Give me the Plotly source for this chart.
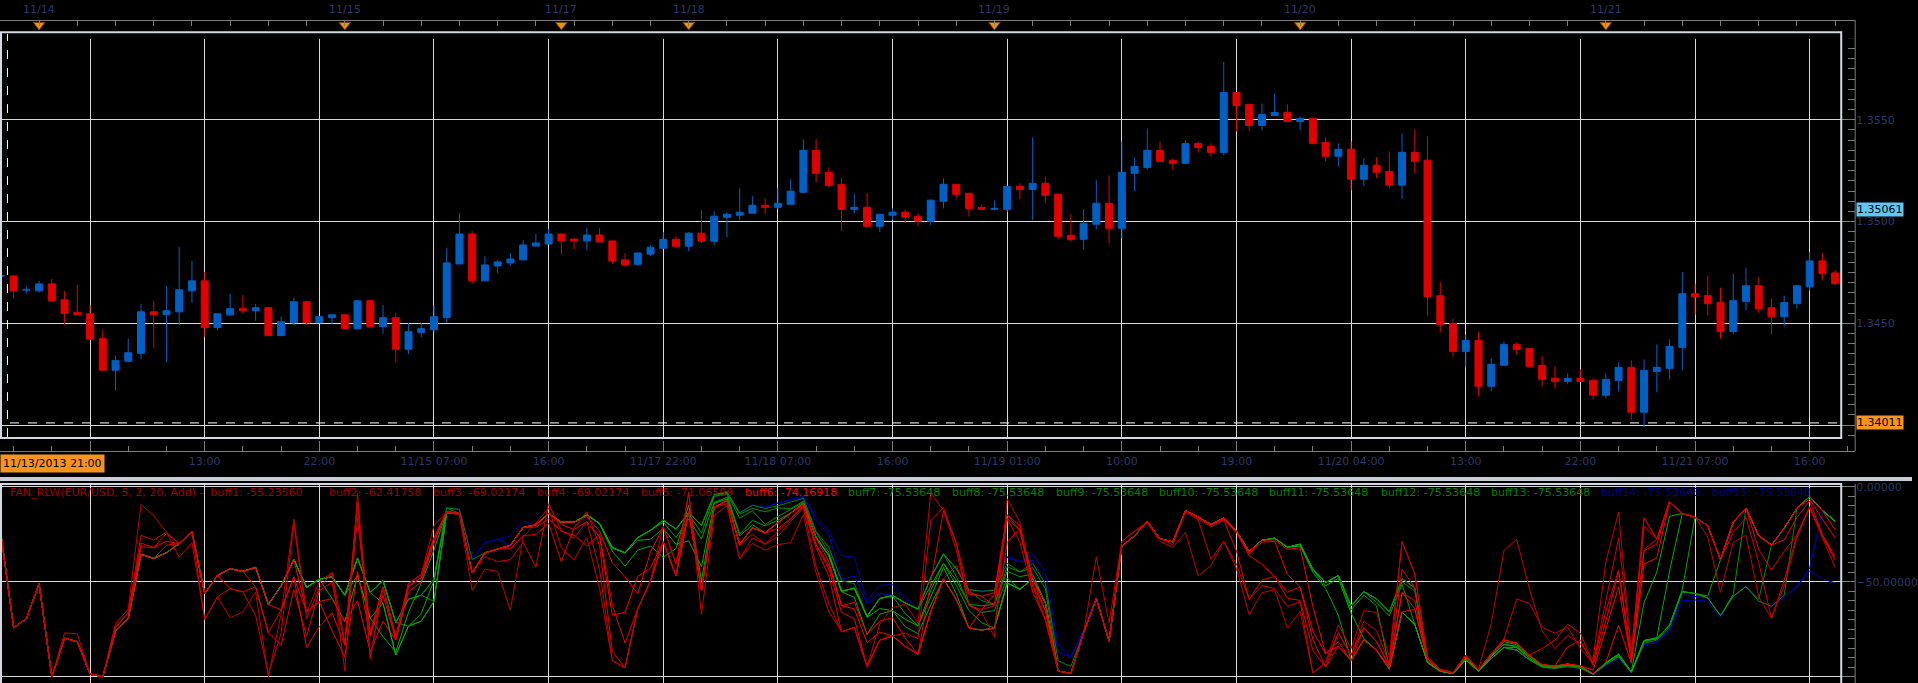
import plotly.graph_objects as go

# ---------------- data (hourly EUR/USD candles) ----------------
BAR_INDEX = list(range(-7, 138))   # bar number, 0 = 11/14 04:00

OPEN = [1.34731, 1.34733, 1.34663, 1.34660, 1.34694, 1.34616, 1.34554, 1.34547, 1.34425, 1.34270,
        1.34314, 1.34353, 1.34557, 1.34544, 1.34557, 1.34660, 1.34709, 1.34480, 1.34542, 1.34572,
        1.34562, 1.34577, 1.34440, 1.34503, 1.34606, 1.34503, 1.34528, 1.34542, 1.34474, 1.34611,
        1.34484, 1.34528, 1.34373, 1.34456, 1.34469, 1.34528, 1.34792, 1.34939, 1.34709, 1.34782,
        1.34797, 1.34812, 1.34880, 1.34890, 1.34939, 1.34914, 1.34905, 1.34934, 1.34905, 1.34812,
        1.34790, 1.34840, 1.34869, 1.34913, 1.34879, 1.34943, 1.34904, 1.35021, 1.35031, 1.35041,
        1.35080, 1.35070, 1.35085, 1.35144, 1.35350, 1.35242, 1.35183, 1.35060, 1.35070, 1.34977,
        1.35031, 1.35046, 1.35026, 1.35002, 1.35100, 1.35183, 1.35139, 1.35070, 1.35060, 1.35060,
        1.35173, 1.35158, 1.35188, 1.35134, 1.34933, 1.34913, 1.34987, 1.35090, 1.34967, 1.35237,
        1.35266, 1.35350, 1.35301, 1.35286, 1.35384, 1.35369, 1.35340, 1.35634, 1.35575, 1.35472,
        1.35521, 1.35536, 1.35492, 1.35507, 1.35389, 1.35321, 1.35355, 1.35208, 1.35277, 1.35247,
        1.35179, 1.35340, 1.35301, 1.34636, 1.34499, 1.34362, 1.34416, 1.34191, 1.34294, 1.34396,
        1.34377, 1.34294, 1.34230, 1.34215, 1.34230, 1.34220, 1.34147, 1.34220, 1.34284, 1.34064,
        1.34264, 1.34279, 1.34382, 1.34646, 1.34636, 1.34602, 1.34460, 1.34607, 1.34685, 1.34577,
        1.34533, 1.34597, 1.34680, 1.34807, 1.34748]
HIGH = [1.34769, 1.34735, 1.34684, 1.34709, 1.34719, 1.34660, 1.34689, 1.34591, 1.34469, 1.34342,
        1.34425, 1.34596, 1.34611, 1.34684, 1.34875, 1.34807, 1.34753, 1.34547, 1.34645, 1.34640,
        1.34596, 1.34577, 1.34533, 1.34626, 1.34611, 1.34533, 1.34542, 1.34542, 1.34616, 1.34616,
        1.34591, 1.34552, 1.34503, 1.34503, 1.34591, 1.34870, 1.35042, 1.34954, 1.34831, 1.34812,
        1.34846, 1.34909, 1.34939, 1.34963, 1.34939, 1.34919, 1.34968, 1.34968, 1.34905, 1.34846,
        1.34846, 1.34884, 1.34948, 1.34928, 1.34948, 1.35056, 1.35051, 1.35046, 1.35163, 1.35124,
        1.35114, 1.35163, 1.35208, 1.35404, 1.35404, 1.35266, 1.35217, 1.35139, 1.35139, 1.35036,
        1.35065, 1.35060, 1.35041, 1.35110, 1.35212, 1.35183, 1.35139, 1.35085, 1.35105, 1.35173,
        1.35188, 1.35413, 1.35222, 1.35139, 1.35036, 1.35060, 1.35203, 1.35227, 1.35394, 1.35315,
        1.35458, 1.35394, 1.35310, 1.35399, 1.35394, 1.35384, 1.35785, 1.35634, 1.35575, 1.35580,
        1.35629, 1.35575, 1.35516, 1.35507, 1.35414, 1.35384, 1.35394, 1.35311, 1.35316, 1.35345,
        1.35433, 1.35453, 1.35418, 1.34704, 1.34523, 1.34445, 1.34460, 1.34328, 1.34411, 1.34406,
        1.34377, 1.34342, 1.34289, 1.34254, 1.34274, 1.34230, 1.34254, 1.34308, 1.34318, 1.34323,
        1.34396, 1.34421, 1.34753, 1.34695, 1.34734, 1.34675, 1.34744, 1.34773, 1.34729, 1.34621,
        1.34636, 1.34685, 1.34851, 1.34846, 1.34763]
LOW = [1.34631, 1.34622, 1.34645, 1.34650, 1.34611, 1.34493, 1.34544, 1.34417, 1.34270, 1.34172,
       1.34309, 1.34324, 1.34378, 1.34309, 1.34492, 1.34601, 1.34435, 1.34466, 1.34538, 1.34547,
       1.34513, 1.34440, 1.34440, 1.34493, 1.34493, 1.34503, 1.34493, 1.34469, 1.34474, 1.34484,
       1.34449, 1.34308, 1.34348, 1.34432, 1.34454, 1.34503, 1.34792, 1.34694, 1.34709, 1.34748,
       1.34782, 1.34812, 1.34875, 1.34890, 1.34841, 1.34865, 1.34861, 1.34900, 1.34792, 1.34778,
       1.34782, 1.34830, 1.34869, 1.34869, 1.34855, 1.34894, 1.34884, 1.34923, 1.35007, 1.35041,
       1.35036, 1.35060, 1.35085, 1.35139, 1.35193, 1.35168, 1.34953, 1.35041, 1.34977, 1.34948,
       1.35007, 1.34992, 1.34977, 1.34982, 1.35065, 1.35114, 1.35026, 1.35056, 1.35056, 1.35046,
       1.35110, 1.35007, 1.35090, 1.34913, 1.34904, 1.34864, 1.34962, 1.34894, 1.34918, 1.35149,
       1.35257, 1.35291, 1.35257, 1.35286, 1.35340, 1.35320, 1.35326, 1.35443, 1.35443, 1.35448,
       1.35521, 1.35492, 1.35448, 1.35379, 1.35296, 1.35272, 1.35154, 1.35174, 1.35213, 1.35164,
       1.35110, 1.35238, 1.34538, 1.34455, 1.34338, 1.34284, 1.34142, 1.34166, 1.34294, 1.34347,
       1.34289, 1.34191, 1.34181, 1.34201, 1.34215, 1.34127, 1.34132, 1.34166, 1.34029, 1.33990,
       1.34162, 1.34225, 1.34269, 1.34543, 1.34538, 1.34426, 1.34445, 1.34563, 1.34553, 1.34445,
       1.34484, 1.34572, 1.34660, 1.34714, 1.34690]
CLOSE = [1.34735, 1.34660, 1.34667, 1.34694, 1.34611, 1.34549, 1.34544, 1.34422, 1.34270, 1.34317,
         1.34356, 1.34557, 1.34544, 1.34562, 1.34665, 1.34709, 1.34480, 1.34547, 1.34572, 1.34562,
         1.34577, 1.34440, 1.34508, 1.34606, 1.34503, 1.34533, 1.34542, 1.34474, 1.34611, 1.34484,
         1.34528, 1.34373, 1.34459, 1.34474, 1.34533, 1.34797, 1.34939, 1.34709, 1.34787, 1.34802,
         1.34816, 1.34885, 1.34895, 1.34939, 1.34905, 1.34905, 1.34934, 1.34900, 1.34807, 1.34787,
         1.34846, 1.34874, 1.34913, 1.34879, 1.34943, 1.34904, 1.35026, 1.35036, 1.35046, 1.35080,
         1.35070, 1.35090, 1.35149, 1.35350, 1.35237, 1.35178, 1.35060, 1.35070, 1.34977, 1.35036,
         1.35046, 1.35021, 1.35002, 1.35105, 1.35183, 1.35134, 1.35065, 1.35060, 1.35065, 1.35173,
         1.35158, 1.35188, 1.35129, 1.34928, 1.34913, 1.34992, 1.35090, 1.34967, 1.35242, 1.35271,
         1.35350, 1.35296, 1.35286, 1.35384, 1.35364, 1.35340, 1.35634, 1.35570, 1.35472, 1.35526,
         1.35536, 1.35492, 1.35507, 1.35384, 1.35321, 1.35355, 1.35208, 1.35277, 1.35242, 1.35179,
         1.35340, 1.35296, 1.34631, 1.34494, 1.34362, 1.34416, 1.34191, 1.34299, 1.34396, 1.34372,
         1.34289, 1.34225, 1.34215, 1.34230, 1.34215, 1.34147, 1.34225, 1.34284, 1.34064, 1.34269,
         1.34284, 1.34387, 1.34646, 1.34631, 1.34597, 1.34460, 1.34611, 1.34685, 1.34572, 1.34533,
         1.34602, 1.34685, 1.34807, 1.34744, 1.34695]

# bottom time axis (grid every 9 bars)
X_TICK_INDEX = [0, 9, 18, 27, 36, 45, 54, 63, 72, 81, 90, 99, 108, 117, 126, 135]
X_TICK_TEXT = ["", "13:00", "22:00", "11/15 07:00", "16:00", "11/17 22:00", "11/18 07:00", "16:00",
               "11/19 01:00", "10:00", "19:00", "11/20 04:00", "13:00", "22:00", "11/21 07:00", "16:00"]
FIRST_BAR_TEXT = "11/13/2013 21:00"

# right price scale (the 1.3400 label sits under the orange tag)
PRICE_TICKS = [1.3400, 1.3450, 1.3500, 1.3550]
PRICE_TICK_TEXT = ["", "1.3450", "1.3500", "1.3550"]

# day separators on the top strip
DAY_MARK_INDEX = [-4, 20, 37, 47, 71, 95, 119]
DAY_MARK_TEXT = ["11/14", "11/15", "11/17", "11/18", "11/19", "11/20", "11/21"]

# price tags on the right scale
PRICE_TAG_BLUE = 1.35061
PRICE_TAG_ORANGE = 1.34011

# FAN_RLW indicator: 15 Williams %R buffers of the candles above
FAN_PERIODS = [5, 7, 9, 11, 13, 15, 17, 19, 21, 23, 25, 27, 29, 31, 33]
FAN_COLORS = ["#c80000", "#d80000", "#e80000", "#f00000", "#ff0000", "#ff0000",
              "#00b000", "#00b000", "#00a800", "#00a000", "#009800", "#009000", "#008800",
              "#0000c8", "#0000b0"]
LEGEND_TEXT = ["FAN_RLW(EUR/USD, 5, 2, 20, Add) -  buff1: -55.23560", "buff2: -62.41758",
               "buff3: -69.02174", "buff4: -69.02174", "buff5: -71.06599", "buff6: -74.16918",
               "buff7: -75.53648", "buff8: -75.53648", "buff9: -75.53648", "buff10: -75.53648",
               "buff11: -75.53648", "buff12: -75.53648", "buff13: -75.53648",
               "buff14: -75.53643", "buff15: -75.53648"]
LEGEND_COLORS = ["#a00000", "#a00000", "#a00000", "#a00000", "#a00000", "#ff0000",
                 "#008000", "#008000", "#008000", "#008000", "#008000", "#008000", "#008000",
                 "#000090", "#000090"]

# ---------------- layout constants (pixels of the 1918x683 page) ----------------
W, H = 1918, 683
def px(x): return x / W
def py(y): return 1 - y / H

BAR_X0_PX, BAR_STEP_PX = 90.33, 12.778          # pixel of bar 0 and bar spacing
X_RANGE = [(0 - BAR_X0_PX) / BAR_STEP_PX, (1861 - BAR_X0_PX) / BAR_STEP_PX]
PRICE_RANGE = [1.33938, 1.35927]
FAN_RANGE = [-103.3, 1.57]

UP_COLOR, DOWN_COLOR = "#0060c4", "#e00000"
LABEL_COLOR = "#2f3568"
AXIS_COLOR = "#7a7a7a"
GRID_COLOR = "#d8d8d8"
BORDER_COLOR = "#d4d8e2"
FONT = "DejaVu Sans"

fig = go.Figure()

# ---------------- candles ----------------
for up in (True, False):
    xs, base, height = [], [], []
    wx, wy = [], []
    for k, o, h, l, c in zip(BAR_INDEX, OPEN, HIGH, LOW, CLOSE):
        if (c >= o) != up:
            continue
        xs.append(k)
        base.append(min(o, c))
        height.append(abs(c - o))
        wx += [k, k, None]
        wy += [l, h, None]
    col = UP_COLOR if up else DOWN_COLOR
    fig.add_trace(go.Scatter(x=wx, y=wy, mode="lines", line=dict(color=col, width=1),
                             xaxis="x", yaxis="y", hoverinfo="skip"))
    fig.add_trace(go.Bar(x=xs, y=height, base=base, width=0.55,
                         marker=dict(color=col, line=dict(color=col, width=1)),
                         xaxis="x", yaxis="y", hoverinfo="skip"))

# ---------------- FAN_RLW lines (Williams %R of the candles) ----------------
def williams_r(period):
    out = []
    for i in range(len(CLOSE)):
        lo = max(0, i - period + 1)
        hh = max(HIGH[lo:i + 1])
        ll = min(LOW[lo:i + 1])
        out.append(-100.0 * (hh - CLOSE[i]) / (hh - ll) if hh > ll else -50.0)
    return out

for period, col in reversed(list(zip(FAN_PERIODS, FAN_COLORS))):
    fig.add_trace(go.Scatter(x=BAR_INDEX, y=williams_r(period), mode="lines",
                             line=dict(color=col, width=1), xaxis="x2", yaxis="y2",
                             hoverinfo="skip"))

# ---------------- day markers on the top strip ----------------
fig.add_trace(go.Scatter(x=DAY_MARK_INDEX, y=[22] * len(DAY_MARK_INDEX), mode="markers",
                         marker=dict(symbol="triangle-down", size=10, color="#f0900c",
                                     line=dict(color="#7a4800", width=1)),
                         xaxis="x3", yaxis="y3", hoverinfo="skip"))

tickfont = dict(family=FONT, size=11, color=LABEL_COLOR)

fig.update_layout(
    width=W, height=H, margin=dict(l=0, r=0, t=0, b=0),
    paper_bgcolor="black", plot_bgcolor="black",
    showlegend=False, barmode="overlay", hovermode=False,
    xaxis=dict(domain=[0, px(1861)], range=X_RANGE, anchor="free", position=py(450),
               side="bottom", showline=True, linecolor=AXIS_COLOR, linewidth=1,
               tickmode="array", tickvals=X_TICK_INDEX, ticktext=X_TICK_TEXT,
               ticks="inside", ticklen=10, tickcolor=AXIS_COLOR, tickfont=tickfont,
               minor=dict(tickmode="linear", tick0=0, dtick=3, ticks="inside", ticklen=5,
                          tickcolor=AXIS_COLOR, showgrid=False),
               showgrid=True, gridcolor=GRID_COLOR, gridwidth=1, zeroline=False, fixedrange=True),
    yaxis=dict(domain=[py(436.7), py(30)], range=PRICE_RANGE, side="right", anchor="x",
               tickmode="array", tickvals=PRICE_TICKS, ticktext=PRICE_TICK_TEXT,
               ticks="inside", ticklen=14, tickcolor=AXIS_COLOR, tickfont=tickfont,
               minor=dict(tickmode="linear", tick0=1.34, dtick=0.0005, ticks="inside", ticklen=7,
                          tickcolor=AXIS_COLOR, showgrid=False),
               showgrid=True, gridcolor=GRID_COLOR, gridwidth=1, zeroline=False,
               showline=False),
    xaxis2=dict(domain=[0, px(1861)], range=X_RANGE, anchor="y2", showticklabels=False,
                tickmode="array", tickvals=X_TICK_INDEX, ticks="",
                showgrid=True, gridcolor=GRID_COLOR, gridwidth=1, zeroline=False, showline=False),
    yaxis2=dict(domain=[0, py(483)], range=FAN_RANGE, side="right", anchor="x2",
                tickmode="linear", tick0=0, dtick=50, tickformat=".5f",
                ticks="inside", ticklen=14, tickcolor=AXIS_COLOR, tickfont=tickfont,
                minor=dict(tick0=0, dtick=5, ticks="inside", ticklen=7,
                           tickcolor=AXIS_COLOR, showgrid=False),
                showgrid=True, gridcolor=GRID_COLOR, gridwidth=1, zeroline=False,
                showline=False),
    xaxis3=dict(domain=[0, px(1861)], range=X_RANGE, overlaying="x", anchor="free",
                position=py(17), side="top", showline=True, linecolor=AXIS_COLOR,
                tickmode="linear", tick0=-1, dtick=3, ticks="inside", ticklen=5,
                tickcolor=AXIS_COLOR, showticklabels=False, showgrid=False, zeroline=False),
    yaxis3=dict(domain=[py(36), 1], range=[36, 0], visible=False),
)

# ---------------- frames, separators, level lines ----------------
shapes = [
    dict(type="rect", xref="paper", yref="paper", x0=px(1), x1=px(1847), y0=py(437), y1=py(29.5),
         line=dict(color=BORDER_COLOR, width=2)),
    dict(type="rect", xref="paper", yref="paper", x0=0, x1=1, y0=py(480), y1=py(476),
         fillcolor="#c8ccd6", line=dict(width=0)),
    dict(type="rect", xref="paper", yref="paper", x0=px(1), x1=px(1847), y0=py(700), y1=py(483),
         line=dict(color=BORDER_COLOR, width=2)),
    dict(type="line", xref="paper", yref="paper", x0=px(1861), x1=px(1861), y0=py(17), y1=py(450),
         line=dict(color=AXIS_COLOR, width=1)),
    dict(type="line", xref="paper", yref="paper", x0=px(1861), x1=px(1861), y0=py(483), y1=0,
         line=dict(color=AXIS_COLOR, width=1)),
    dict(type="line", xref="paper", yref="paper", x0=px(7.5), x1=px(7.5), y0=py(436), y1=py(31),
         line=dict(color="white", width=1, dash="dash")),
    dict(type="line", xref="paper", yref="y", x0=px(10), x1=px(1846), y0=PRICE_TAG_ORANGE,
         y1=PRICE_TAG_ORANGE, line=dict(color="white", width=1, dash="dash")),
]
fig.update_layout(shapes=shapes)

ann = []
for k, t in zip(DAY_MARK_INDEX, DAY_MARK_TEXT):
    ann.append(dict(x=k, xref="x", y=py(7), yref="paper", text=t, showarrow=False,
                    xanchor="center", yanchor="middle", font=tickfont))
ann.append(dict(x=0, xref="paper", y=py(463), yref="paper", text=FIRST_BAR_TEXT, showarrow=False,
                xanchor="left", yanchor="middle", bgcolor="#f7941d", borderpad=2,
                font=dict(family=FONT, size=11, color="black")))
for val, bg in ((PRICE_TAG_BLUE, "#5bc8f5"), (PRICE_TAG_ORANGE, "#f7941d")):
    ann.append(dict(x=px(1862), xref="paper", y=val, yref="y", text=f"{val:.5f}", showarrow=False,
                    xanchor="left", yanchor="middle", bgcolor=bg, borderpad=0,
                    font=dict(family=FONT, size=11, color="black")))
LEGEND_X_PX = [8, 328, 432, 537, 641, 745, 849, 953, 1057, 1161, 1271, 1383, 1494, 1604, 1715]
for t, c, xp in zip(LEGEND_TEXT, LEGEND_COLORS, LEGEND_X_PX):
    ann.append(dict(x=px(xp), xref="paper", y=py(492), yref="paper", text=t, showarrow=False,
                    xanchor="left", yanchor="middle", font=dict(family=FONT, size=11, color=c)))
fig.update_layout(annotations=ann)

fig.write_html("out.html")
